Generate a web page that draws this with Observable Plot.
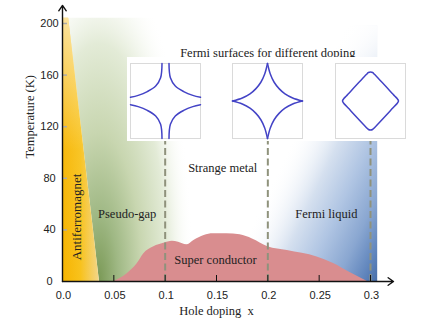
<!DOCTYPE html>
<html>
<head>
<meta charset="utf-8">
<script src="https://cdn.jsdelivr.net/npm/d3@7"></script>
<script src="https://cdn.jsdelivr.net/npm/@observablehq/plot@0.6"></script>
<style>
  html, body { margin: 0; padding: 0; background: #fff; }
  #wrap { position: relative; width: 436px; height: 327px; overflow: hidden; }
  #wrap svg { display: block; }
  .abs { position: absolute; }
</style>
</head>
<body>
<div id="wrap"></div>
<script>
// ---------- data ----------
const xTicks = [0, 0.05, 0.1, 0.15, 0.2, 0.25, 0.3];
const xTickLabels = ["0.0", "0.05", "0.1", "0.15", "0.2", "0.25", "0.3"];
const yTicks = [0, 40, 80, 120, 160, 200];

// superconducting dome (doping x, Tc in K)
const domeX = [0.05, 0.063, 0.0727, 0.079, 0.089, 0.0987, 0.107, 0.113, 0.121, 0.128, 0.138, 0.147, 0.16, 0.173, 0.185, 0.2, 0.219, 0.248, 0.264, 0.28, 0.297];
const domeT = [0, 6, 13.7, 21.4, 27, 29.7, 31.2, 30.5, 28.4, 31.8, 35.7, 37, 37, 36.2, 33, 27, 24, 19, 14, 7, 0];

// antiferromagnet boundary (x at T)
const afmT = [0, 204];
const afmX = [0.036, 0.006];
// pseudo-gap shading right edge (x at T)
const pgX = [0.14, 0.1];

// Fermi-liquid shading extent
const flRegion = [{x1: 0.17, x2: 0.307, y1: 0, y2: 198}];

// dopings of the Fermi-surface insets
const fsDoping = [0.1, 0.2, 0.3];
// one quarter of each Fermi surface (normalized box coords, top-left quadrant)
const fs1Arc = [[-0.1, 1], [-0.14, 0.62], [-0.28, 0.4], [-0.52, 0.25], [-0.78, 0.15], [-1, 0.1]];
const fs2Arc = [[0, 1], [-0.08, 0.72], [-0.19, 0.5], [-0.33, 0.33], [-0.5, 0.19], [-0.72, 0.08], [-1, 0]];
const fs3Arc = [[0, 0.775], [-0.06, 0.76], [-0.12, 0.705], [-0.69, 0.135], [-0.76, 0.065], [-0.8, 0]];

const regionNames = ["Pseudo-gap", "Strange metal", "Fermi liquid", "Super conductor"];
const regionX = [0.063, 0.156, 0.257, 0.149];
const regionT = [52, 88, 52, 17];

// ---------- build ----------
const serif = "'Liberation Serif', 'Times New Roman', serif";
const sans = "'Liberation Sans', Arial, sans-serif";

const afm = afmT.map((t, i) => ({t, x: afmX[i]}));
const pg = afmT.map((t, i) => ({t, x1: afmX[i], x2: pgX[i]}));
const dome = domeX.map((x, i) => ({x, t: domeT[i]}));
const labels = regionNames.map((name, i) => ({name, x: regionX[i], t: regionT[i]}));

const plot = Plot.plot({
  width: 436,
  height: 327,
  marginLeft: 62,
  marginRight: 66,
  marginTop: 23,
  marginBottom: 46,
  style: {background: "#fff", fontFamily: serif},
  x: {domain: [0, 0.3]},
  y: {domain: [0, 200]},
  marks: [
    // shaded phases
    Plot.areaX(pg, {y: "t", x1: "x1", x2: "x2", fill: "url(#gPG)"}),
    Plot.areaX(afm, {y: "t", x1: 0, x2: "x", fill: "url(#gAFM)"}),
    Plot.areaX(afm, {y: "t", x1: 0, x2: "x", fill: "url(#gAFMfade)"}),
    Plot.rect(flRegion, {x1: "x1", x2: "x2", y1: "y1", y2: "y2", fill: "url(#gFL)"}),
    Plot.rect(flRegion, {x1: "x1", x2: "x2", y1: "y1", y2: "y2", fill: "url(#gFLfade)"}),
    // superconducting dome
    Plot.areaY(dome, {x: "x", y: "t", curve: "monotone-x", fill: "#d98d8f"}),
    // dashed guides to insets
    Plot.ruleX(fsDoping, {y1: 0, y2: 110, stroke: "#8f927c", strokeWidth: 2, strokeDasharray: "7,3.5"}),
    // axis ticks
    Plot.axisX({ticks: xTicks.slice(1), tickSize: -6, tickFormat: () => "", stroke: "#111", label: null}),
    Plot.axisY({ticks: yTicks.slice(1), tickSize: -5, tickFormat: () => "", stroke: "#aaa", strokeWidth: 1.5, label: null}),
    // axis lines with arrows
    Plot.arrow([0], {x1: 0, y1: 0, x2: 0, y2: 214, stroke: "#111", strokeWidth: 1.4, headLength: 7, headAngle: 70}),
    Plot.arrow([0], {x1: 0, y1: 0, x2: 0.3224, y2: 0, stroke: "#111", strokeWidth: 1.4, headLength: 7, headAngle: 70}),
    // tick labels
    Plot.text(xTicks, {x: d => d, y: 0, dy: 14, dx: 1, text: (d, i) => xTickLabels[i], fontFamily: sans, fontSize: 11, fill: "#222"}),
    Plot.text(yTicks, {x: 0, y: d => d, dx: -13, text: d => String(d), textAnchor: "middle", fontFamily: sans, fontSize: 11, fill: "#222"}),
    // axis titles
    Plot.text(["Temperature (K)"], {frameAnchor: "left", dx: -33, dy: 6, rotate: -90, fontFamily: serif, fontSize: 12.5, fill: "#222"}),
    Plot.text(["Hole doping  x"], {frameAnchor: "bottom", dy: 33, fontFamily: serif, fontSize: 12.5, fill: "#222"}),
    // region labels
    Plot.text(labels, {x: "x", y: "t", text: "name", fontFamily: serif, fontSize: 12.5, fill: "#222"}),
    Plot.text(["Antiferromagnet"], {x: 0.0136, y: 50, rotate: -90, fontFamily: serif, fontSize: 13, fill: "#222"}),
    // inset title
    Plot.text(["Fermi surfaces for different doping"], {x: 0.2, y: 177, fontFamily: serif, fontSize: 12.5, fill: "#222"})
  ]
});

// gradients (pseudo-gap glow is an ellipse anchored at the AFM edge on the T = 0 line)
const sx = plot.scale("x"), sy = plot.scale("y");
const gx = sx.apply(afmX[0]), gy = sy.apply(0);
d3.select(plot).insert("defs", ":first-child").html(`
  <linearGradient id="gAFM" x1="0" y1="0" x2="1" y2="0">
    <stop offset="0" stop-color="#f6b400"/>
    <stop offset="0.5" stop-color="#f8c21c"/>
    <stop offset="1" stop-color="#f3d68a"/>
  </linearGradient>
  <linearGradient id="gAFMfade" x1="0" y1="0" x2="0" y2="1">
    <stop offset="0" stop-color="#fff" stop-opacity="0.6"/>
    <stop offset="0.5" stop-color="#fff" stop-opacity="0.05"/>
    <stop offset="1" stop-color="#fff" stop-opacity="0"/>
  </linearGradient>
  <radialGradient id="gPG" gradientUnits="userSpaceOnUse" cx="0" cy="0" r="1"
      gradientTransform="translate(${gx},${gy}) scale(95,330)">
    <stop offset="0" stop-color="#7a9956"/>
    <stop offset="0.2" stop-color="#9fb884"/>
    <stop offset="0.45" stop-color="#c8d6b0"/>
    <stop offset="0.72" stop-color="#e3ebd7"/>
    <stop offset="1" stop-color="#ffffff" stop-opacity="0"/>
  </radialGradient>
  <linearGradient id="gFL" x1="0.445" y1="0.381" x2="1.104" y2="0.946">
    <stop offset="0" stop-color="#ffffff" stop-opacity="0"/>
    <stop offset="0.3" stop-color="#d5e0ef"/>
    <stop offset="0.5" stop-color="#b0c5e3"/>
    <stop offset="0.7" stop-color="#8aa7d1"/>
    <stop offset="0.85" stop-color="#6186bd"/>
    <stop offset="1" stop-color="#3a62a0"/>
  </linearGradient>
  <linearGradient id="gFLfade" x1="0" y1="0" x2="0" y2="1">
    <stop offset="0" stop-color="#fff" stop-opacity="0.85"/>
    <stop offset="0.35" stop-color="#fff" stop-opacity="0"/>
  </linearGradient>
`);

const wrap = document.getElementById("wrap");
wrap.appendChild(plot);

// ---------- Fermi-surface insets ----------
const boxW = 72, boxH = 77, boxTop = 62;

function mirrored(arc) {
  const out = [];
  [[1, 1], [1, -1], [-1, -1], [-1, 1]].forEach(([mx, my], k) => {
    arc.forEach(([x, y]) => out.push({x: x * mx, y: y * my, k}));
  });
  return out;
}
function loop(arc) {
  const pts = [];
  arc.forEach(([x, y]) => pts.push({x, y}));
  arc.slice().reverse().slice(1).forEach(([x, y]) => pts.push({x, y: -y}));
  arc.slice(1).forEach(([x, y]) => pts.push({x: -x, y: -y}));
  arc.slice().reverse().slice(1, -1).forEach(([x, y]) => pts.push({x: -x, y}));
  return pts;
}

const backdrop = document.createElement("div");
backdrop.className = "abs";
const bl = sx.apply(fsDoping[0]) - 38, br = sx.apply(fsDoping[2]) + 38;
backdrop.style.cssText = `left:${bl}px;top:${boxTop - 5}px;width:${br - bl}px;height:${boxH + 7}px;background:#fff;`;
wrap.appendChild(backdrop);

const insetMarks = [
  Plot.line(mirrored(fs1Arc), {x: "x", y: "y", z: "k", curve: "catmull-rom", stroke: "#4343c6", strokeWidth: 1.5}),
  Plot.line(mirrored(fs2Arc), {x: "x", y: "y", z: "k", curve: "catmull-rom", stroke: "#4343c6", strokeWidth: 1.5}),
  Plot.line(loop(fs3Arc), {x: "x", y: "y", curve: "catmull-rom-closed", stroke: "#4343c6", strokeWidth: 1.5})
];

fsDoping.forEach((d, i) => {
  const inset = Plot.plot({
    width: boxW,
    height: boxH,
    margin: 1,
    style: {background: "#fff", overflow: "visible"},
    x: {domain: [-1, 1], axis: null},
    y: {domain: [-1, 1], axis: null},
    marks: [
      Plot.frame({stroke: "#dadada"}),
      insetMarks[i]
    ]
  });
  inset.classList.add("abs");
  inset.style.left = (sx.apply(d) - boxW / 2) + "px";
  inset.style.top = boxTop + "px";
  wrap.appendChild(inset);
});
</script>
</body>
</html>
